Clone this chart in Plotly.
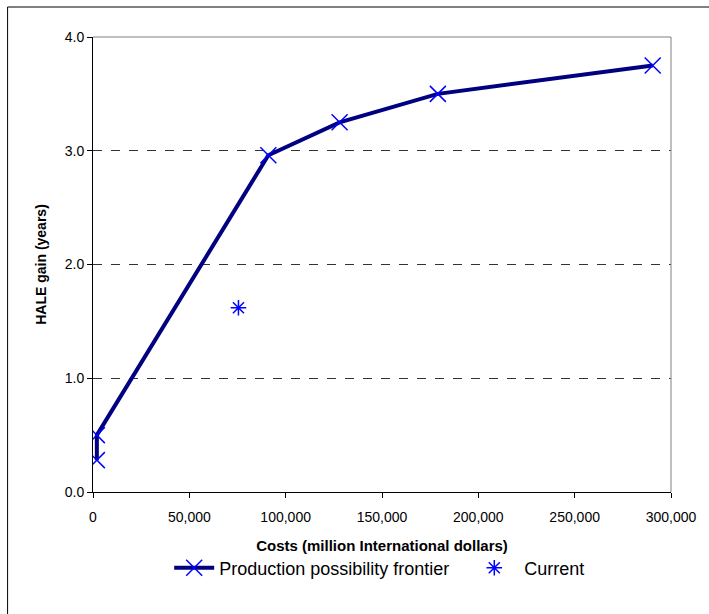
import plotly.graph_objects as go

frontier_cost = [2000, 2000, 91000, 128000, 179000, 290500]
frontier_hale = [0.28, 0.50, 2.96, 3.25, 3.50, 3.75]
current_cost = [75500]
current_hale = [1.62]
x_ticks = [0, 50000, 100000, 150000, 200000, 250000, 300000]
y_ticks = [0.0, 1.0, 2.0, 3.0, 4.0]

fig = go.Figure()
fig.add_trace(go.Scatter(
    x=frontier_cost, y=frontier_hale, mode="lines+markers",
    name="Production possibility frontier\u00a0\u00a0\u00a0",
    line=dict(color="#000080", width=4),
    marker=dict(symbol="x-thin-open", size=16, color="#0000FF",
                line=dict(color="#0000FF", width=1.5)),
))
fig.add_trace(go.Scatter(
    x=current_cost, y=current_hale, mode="markers", name="\u00a0Current",
    marker=dict(symbol="asterisk-open", size=13, color="#0000FF",
                line=dict(color="#0000FF", width=1.5)),
))

L, R, T, B = 93, 34, 37, 122
W, H = 709, 614
pw, ph = W - L - R, H - T - B

fig.update_layout(
    width=W, height=H,
    margin=dict(l=L, r=R, t=T, b=B),
    paper_bgcolor="white", plot_bgcolor="white",
    font=dict(family="Liberation Sans, Arial, sans-serif", size=14, color="black"),
    showlegend=True,
    legend=dict(orientation="h", x=0.496, xanchor="center",
                y=-(568 - (H - B)) / ph,
                yanchor="middle", font=dict(size=18), itemwidth=40,
                bgcolor="rgba(0,0,0,0)"),
    xaxis=dict(range=[0, 300000], tickvals=x_ticks, tickformat=",d",
               showgrid=False, zeroline=False, showline=True,
               linecolor="black", linewidth=1, ticks="outside", ticklen=5,
               tickcolor="black", tickfont=dict(size=14), ticklabelstandoff=7,
               title=dict(text="<b>Costs (million International dollars)</b>",
                          font=dict(size=15), standoff=16)),
    yaxis=dict(range=[0, 4.0], tickvals=y_ticks, tickformat=".1f",
               showgrid=True, gridcolor="#333", griddash="dash", gridwidth=1,
               zeroline=False, showline=True, linecolor="black", linewidth=1,
               ticks="outside", ticklen=5, tickcolor="black", tickfont=dict(size=14),
               title=dict(text="<b>HALE gain (years)</b>", font=dict(size=14),
                          standoff=14)),
)

# plot area top/right border (gray)
fig.add_shape(type="line", xref="paper", yref="paper", x0=0, x1=1, y0=1, y1=1,
              line=dict(color="#808080", width=1))
fig.add_shape(type="line", xref="paper", yref="paper", x0=1, x1=1, y0=0, y1=1,
              line=dict(color="#808080", width=1))
# outer chart frame
fig.add_shape(type="rect", xref="paper", yref="paper",
              x0=(7 - L) / pw, x1=(W + 20 - L) / pw,
              y0=-(H + 20 - (H - B)) / ph, y1=((H - B) - 7) / ph,
              line=dict(color="black", width=1))

fig.write_html("out.html", config={"displayModeBar": False},
               post_script="document.body.style.margin='0';document.body.style.overflow='hidden';")
